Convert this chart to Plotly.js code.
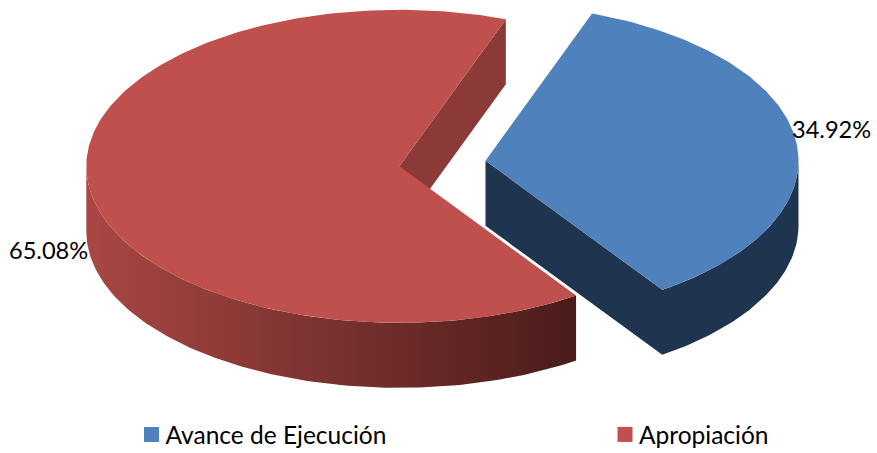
<!DOCTYPE html>
<html><head><meta charset="utf-8">
<script src="https://cdn.plot.ly/plotly-3.0.1.min.js"></script>
<style>html,body{margin:0;padding:0;background:#fff}#chart{width:877px;height:453px}</style>
</head><body><div id="chart"></div>
<script>
// Data
const categories = ["Avance de Ejecución", "Apropiación"];
const values = [34.92, 65.08];
const topColors = ["#4F81BD", "#C0504D"];
const innerWallColors = ["#1F344E", "#8B3A37"];
const outerGradients = [["#1F344E", "#1F344E"], ["#A94744", "#4A1C1A"]];

// Projection of the tilted pie, in chart pixels
const RX = 313, RY = 156.5, DEPTH = 65, START_DEG = 19.9;
const centres = [[485.5, 160.7], [399.3, 166.3]];

const rad = d => d * Math.PI / 180;
const pt = (c, deg, dy) => [c[0] + RX * Math.sin(rad(deg)), c[1] - RY * Math.cos(rad(deg)) + (dy || 0)];
function arc(c, a0, a1, dy) {
  const out = [], n = Math.max(2, Math.ceil(Math.abs(a1 - a0)));
  for (let i = 0; i <= n; i++) out.push(pt(c, a0 + (a1 - a0) * i / n, dy));
  return out;
}
function poly(points, extra) {
  return Object.assign({
    x: points.map(p => p[0]), y: points.map(p => p[1]),
    mode: "lines", fill: "toself", line: {width: 0}, hoverinfo: "skip", showlegend: false
  }, extra);
}
const total = values.reduce((a, b) => a + b, 0);
const spans = values.map(v => v / total * 360);
const a0 = START_DEG, a1 = a0 + spans[0], a2 = a1 + spans[1];

const traces = [];
// Red slice: cut wall, rim, top
{
  const c = centres[1];
  const e = pt(c, a2), eLow = pt(c, a2, DEPTH), apexLow = [c[0], c[1] + DEPTH];
  traces.push(poly([c, e, eLow, apexLow], {fillcolor: innerWallColors[1]}));
  const rim = arc(c, a1, 270).concat(arc(c, 270, a1, DEPTH));
  traces.push(poly(rim, {fillcolor: outerGradients[1][1],
    fillgradient: {type: "horizontal", colorscale: [[0, outerGradients[1][0]], [1, outerGradients[1][1]]]}}));
  traces.push(poly([c].concat(arc(c, a1, a2)), {fillcolor: topColors[1]}));
}
// Blue slice: walls, top
{
  const c = centres[0];
  const wall = [c, [c[0], c[1] + DEPTH]].concat(arc(c, a1, 90, DEPTH)).concat(arc(c, 90, a1));
  traces.push(poly(wall, {fillcolor: innerWallColors[0]}));
  traces.push(poly([c].concat(arc(c, a0, a1)), {fillcolor: topColors[0]}));
}
// Legend entries
categories.forEach((name, i) => traces.push({
  x: [-100], y: [-100], mode: "markers", name: name,
  marker: {symbol: "square", size: 15, color: topColors[i]},
  legend: i === 0 ? "legend" : "legend2", showlegend: true, hoverinfo: "skip"
}));

const FONT = "Lato, Carlito, Calibri, sans-serif";
const pct = v => v.toFixed(2) + "%";
const legendBase = {orientation: "h", yanchor: "bottom", y: 0.0, bgcolor: "rgba(0,0,0,0)",
  font: {family: FONT, size: 24.5, color: "#000"}, itemclick: false, itemdoubleclick: false};
const layout = {
  width: 877, height: 453, margin: {l: 0, r: 0, t: 0, b: 0},
  paper_bgcolor: "#fff", plot_bgcolor: "#fff", dragmode: false,
  xaxis: {range: [0, 877], visible: false, fixedrange: true},
  yaxis: {range: [453, 0], visible: false, fixedrange: true},
  legend: Object.assign({}, legendBase, {x: 125.5 / 877, xanchor: "left"}),
  legend2: Object.assign({}, legendBase, {x: 599 / 877, xanchor: "left"}),
  annotations: [
    {x: 831.5, y: 129, text: pct(values[0])},
    {x: 48.5, y: 249.5, text: pct(values[1])}
  ].map(a => Object.assign(a, {xref: "x", yref: "y", showarrow: false, font: {family: FONT, size: 23.6, color: "#000"}}))
};
Plotly.newPlot("chart", traces, layout, {displayModeBar: false, staticPlot: true}).then(() => {
  // tighten the legend swatch-to-text gap and seat the legends on the baseline
  document.querySelectorAll(".legendpoints").forEach(g => {
    g.setAttribute("transform", "translate(6,0) " + (g.getAttribute("transform") || ""));
  });
  document.querySelectorAll("g.legend, g.legend2").forEach(g => {
    g.setAttribute("transform", "translate(0,4) " + (g.getAttribute("transform") || ""));
  });
});
</script></body></html>
